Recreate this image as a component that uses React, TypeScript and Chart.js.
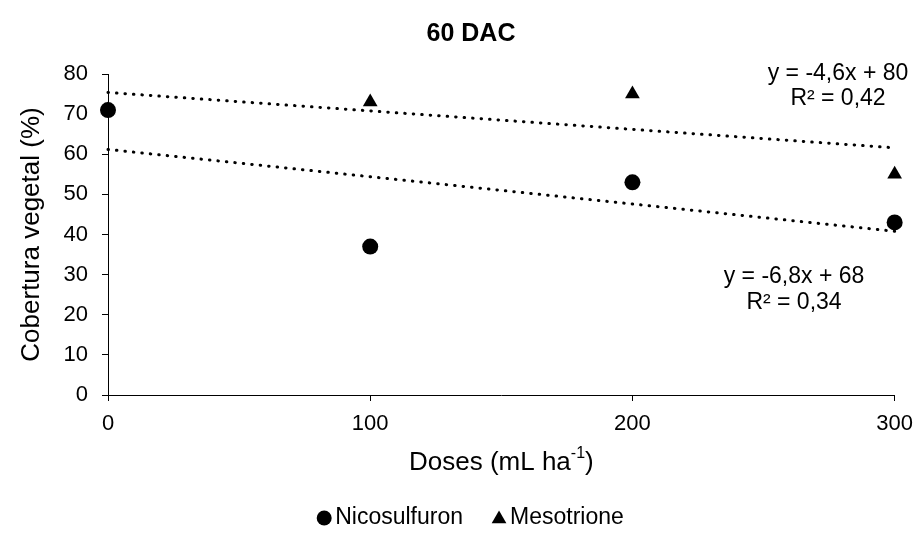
import React, { useEffect, useRef } from 'react';
import { Chart, registerables } from 'chart.js';

Chart.register(...registerables);

// ---------- data ----------
const doses = [0, 100, 200, 300];
const nicosulfuron = [71, 37, 53, 43];
const mesotrione = [71, 73, 75, 55];
const seriesNames = ['Nicosulfuron', 'Mesotrione'];
const nicoEquation = ['y = -6,8x + 68', 'R² = 0,34'];
const mesoEquation = ['y = -4,6x + 80', 'R² = 0,42'];
const chartTitle = '60 DAC';
const yAxisTitle = 'Cobertura vegetal (%)';
const xAxisTitleParts = ['Doses (mL ha', '-1', ')'];
const yMin = 0;
const yMax = 80;
const yStep = 10;
const xStep = 100;

const FONT = "'Liberation Sans', Arial, sans-serif";

// Excel-style linear trendline (x = 1..n), drawn from first to last dose
function linearTrend(values: number[]) {
  const n = values.length;
  const xs = values.map((_, i) => i + 1);
  const mx = xs.reduce((a, b) => a + b, 0) / n;
  const my = values.reduce((a, b) => a + b, 0) / n;
  let sxy = 0;
  let sxx = 0;
  xs.forEach((x, i) => {
    sxy += (x - mx) * (values[i] - my);
    sxx += (x - mx) * (x - mx);
  });
  const slope = sxy / sxx;
  const intercept = my - slope * mx;
  return [
    { x: doses[0], y: intercept + slope * xs[0] },
    { x: doses[n - 1], y: intercept + slope * xs[n - 1] },
  ];
}

function drawMarker(ctx: CanvasRenderingContext2D, style: string, x: number, y: number, r: number) {
  ctx.beginPath();
  if (style === 'triangle') {
    let rad = 0;
    ctx.moveTo(x + Math.sin(rad) * r, y - Math.cos(rad) * r);
    rad += (2 * Math.PI) / 3;
    ctx.lineTo(x + Math.sin(rad) * r, y - Math.cos(rad) * r);
    rad += (2 * Math.PI) / 3;
    ctx.lineTo(x + Math.sin(rad) * r, y - Math.cos(rad) * r);
    ctx.closePath();
  } else {
    ctx.arc(x, y, r, 0, Math.PI * 2);
  }
  ctx.fill();
}

const textPlugin = {
  id: 'customTexts',
  afterDraw(chart: any) {
    const { ctx, chartArea } = chart;
    ctx.save();
    ctx.fillStyle = '#000';
    ctx.textBaseline = 'middle';

    // chart title
    ctx.font = `bold 25px ${FONT}`;
    ctx.textAlign = 'center';
    ctx.fillText(chartTitle, 471, 34);

    // trendline equations
    ctx.font = `23px ${FONT}`;
    ctx.fillText(mesoEquation[0], 838, 74);
    ctx.fillText(mesoEquation[1], 838, 99);
    ctx.fillText(nicoEquation[0], 794, 277);
    ctx.fillText(nicoEquation[1], 794, 303);

    // x axis title with superscript
    const mainFont = `26px ${FONT}`;
    const supFont = `16px ${FONT}`;
    ctx.font = mainFont;
    const w0 = ctx.measureText(xAxisTitleParts[0]).width;
    const w2 = ctx.measureText(xAxisTitleParts[2]).width;
    ctx.font = supFont;
    const w1 = ctx.measureText(xAxisTitleParts[1]).width;
    const cx = (chartArea.left + chartArea.right) / 2;
    let x = cx - (w0 + w1 + w2) / 2;
    const ty = 463;
    ctx.textAlign = 'left';
    ctx.font = mainFont;
    ctx.fillText(xAxisTitleParts[0], x, ty);
    x += w0;
    ctx.font = supFont;
    ctx.fillText(xAxisTitleParts[1], x, ty - 9);
    x += w1;
    ctx.font = mainFont;
    ctx.fillText(xAxisTitleParts[2], x, ty);

    // legend
    ctx.font = `23px ${FONT}`;
    const items = chart.data.datasets
      .filter((d: any) => !d.isTrend)
      .map((d: any) => ({ label: d.label, style: d.pointStyle, w: ctx.measureText(d.label).width }));
    const markerW = 16;
    const gapMarker = 3;
    const gapItem = 28;
    const total = items.reduce((s: number, it: any) => s + markerW + gapMarker + it.w, 0) + gapItem * (items.length - 1);
    let lx = 470 - total / 2;
    const ly = 518;
    items.forEach((it: any) => {
      drawMarker(ctx, it.style, lx + markerW / 2, ly + (it.style === 'triangle' ? 1 : 0), it.style === 'triangle' ? 8.5 : 7.5);
      lx += markerW + gapMarker;
      ctx.textAlign = 'left';
      ctx.fillText(it.label, lx, ly);
      lx += it.w + gapItem;
    });
    ctx.restore();
  },
};

export default function App() {
  const canvasRef = useRef<HTMLCanvasElement | null>(null);

  useEffect(() => {
    const canvas = canvasRef.current;
    if (!canvas) return;
    const chart = new Chart(canvas, {
      type: 'scatter',
      data: {
        datasets: [
          {
            label: seriesNames[0],
            data: doses.map((d, i) => ({ x: d, y: nicosulfuron[i] })),
            pointStyle: 'circle',
            pointRadius: 8,
            backgroundColor: '#000',
            borderColor: '#000',
            borderWidth: 0,
            clip: false,
            order: 2,
          } as any,
          {
            label: seriesNames[1],
            data: doses.map((d, i) => ({ x: d, y: mesotrione[i] })),
            pointStyle: 'triangle',
            pointRadius: 8.5,
            backgroundColor: '#000',
            borderColor: '#000',
            borderWidth: 0,
            clip: false,
            order: 1,
          } as any,
          {
            label: 'Linear (' + seriesNames[0] + ')',
            isTrend: true,
            data: linearTrend(nicosulfuron),
            showLine: true,
            pointRadius: 0,
            borderColor: '#000',
            borderWidth: 3,
            borderDash: [0.5, 8],
            borderCapStyle: 'round',
            clip: false,
            order: 3,
          } as any,
          {
            label: 'Linear (' + seriesNames[1] + ')',
            isTrend: true,
            data: linearTrend(mesotrione),
            showLine: true,
            pointRadius: 0,
            borderColor: '#000',
            borderWidth: 3,
            borderDash: [0.5, 8],
            borderCapStyle: 'round',
            clip: false,
            order: 3,
          } as any,
        ],
      },
      options: {
        animation: false,
        responsive: false,
        maintainAspectRatio: false,
        layout: { padding: { left: 0, right: 22, top: 74, bottom: 0 } },
        plugins: {
          legend: { display: false },
          title: { display: false },
          tooltip: { enabled: false },
        },
        scales: {
          x: {
            type: 'linear',
            min: doses[0],
            max: doses[doses.length - 1],
            ticks: {
              stepSize: xStep,
              color: '#000',
              font: { family: FONT, size: 22 },
              padding: 10,
              maxRotation: 0,
            },
            grid: { drawOnChartArea: false, drawTicks: true, tickLength: 6, color: '#000', lineWidth: 1 },
            border: { display: true, color: '#000', width: 1 },
            afterFit: (scale: any) => {
              scale.height = 142;
            },
          },
          y: {
            type: 'linear',
            min: yMin,
            max: yMax,
            ticks: {
              stepSize: yStep,
              color: '#000',
              font: { family: FONT, size: 22 },
              padding: 14,
            },
            grid: { drawOnChartArea: false, drawTicks: true, tickLength: 6, color: '#000', lineWidth: 1 },
            border: { display: true, color: '#000', width: 1 },
            title: {
              display: true,
              text: yAxisTitle,
              color: '#000',
              font: { family: FONT, size: 26, lineHeight: 1.2 },
              padding: { top: 16, bottom: 0 },
            },
            afterFit: (scale: any) => {
              scale.width = 108;
            },
          },
        },
      },
      plugins: [textPlugin],
    });
    return () => chart.destroy();
  }, []);

  return (
    <div style={{ position: 'fixed', left: 0, top: 0, width: 923, height: 537, background: '#fff' }}>
      <canvas ref={canvasRef} width={923} height={537} style={{ display: 'block', width: 923, height: 537 }} />
    </div>
  );
}
